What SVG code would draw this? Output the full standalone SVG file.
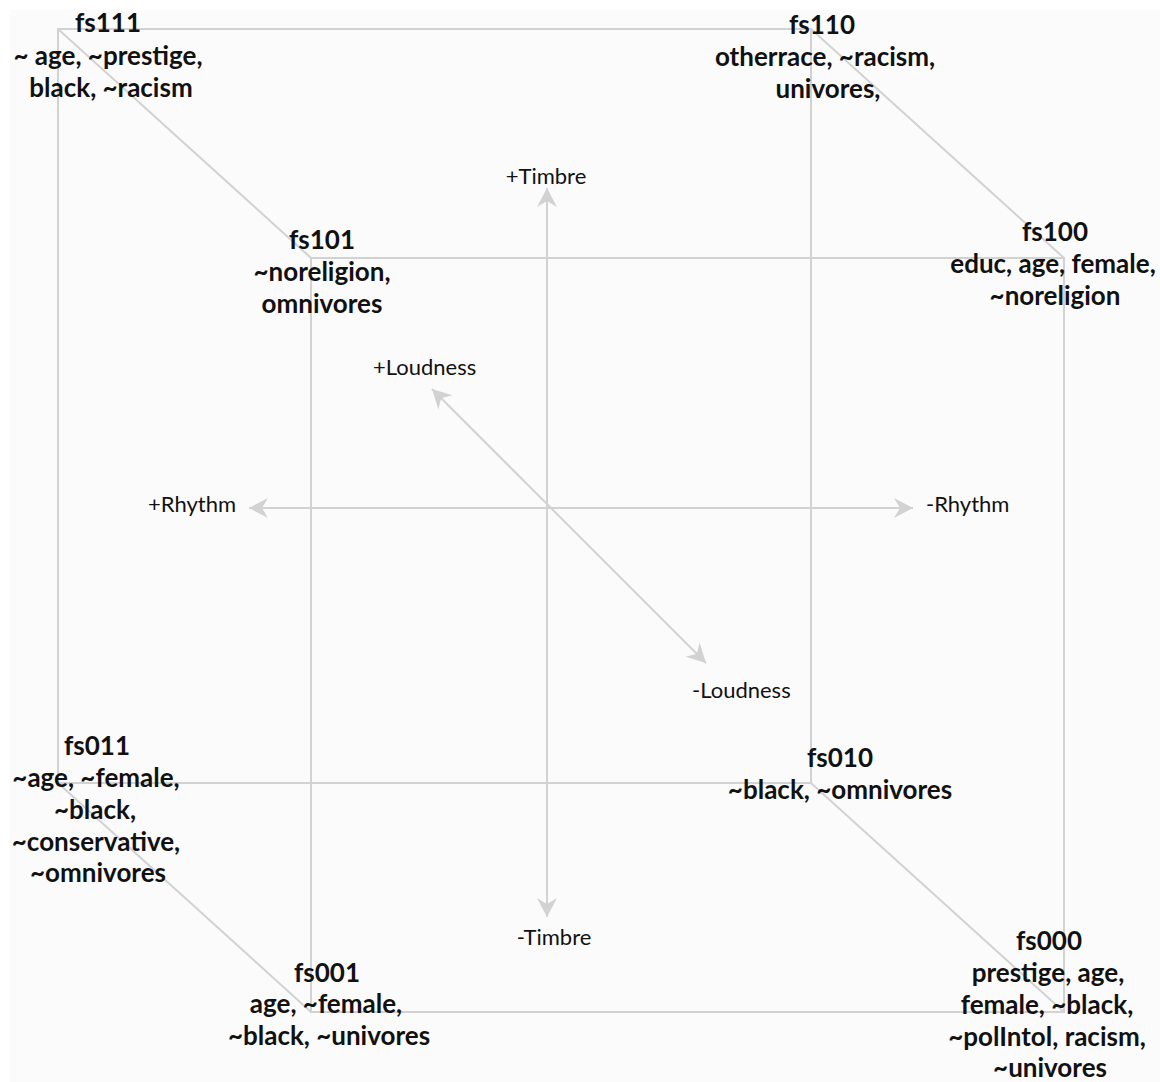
<svg xmlns="http://www.w3.org/2000/svg" width="1160" height="1082" viewBox="0 0 1160 1082">
<defs>
<style>
.edge{stroke:#d2d2d2;stroke-width:2;fill:none}
.axis{stroke:#d2d2d2;stroke-width:2;fill:none;marker-end:url(#ah);marker-start:url(#ahs)}
.lbl{font-family:Lato,"Noto Sans",sans-serif;font-weight:bold;font-size:26px;fill:#111;text-anchor:middle}
.ax{font-family:Lato,"Noto Sans",sans-serif;font-size:22px;fill:#111}
</style>
<marker id="ah" markerUnits="userSpaceOnUse" markerWidth="24" markerHeight="24" viewBox="-20 -12 22 24" refX="0" refY="0" orient="auto">
<path d="M0,0 L-19,-10 L-13,0 L-19,10 Z" fill="#d2d2d2"/>
</marker>
<marker id="ahs" markerUnits="userSpaceOnUse" markerWidth="24" markerHeight="24" viewBox="-20 -12 22 24" refX="0" refY="0" orient="auto-start-reverse">
<path d="M0,0 L-19,-10 L-13,0 L-19,10 Z" fill="#d2d2d2"/>
</marker>
</defs>
<rect x="0" y="0" width="1160" height="1082" fill="#ffffff"/>
<rect x="10" y="10" width="1150" height="1072" fill="#fbfbfb"/>
<g id="connectors">
<rect class="edge" x="58" y="29" width="753" height="754"/>
<rect class="edge" x="311" y="258" width="753" height="754"/>
<line class="edge" x1="58" y1="29" x2="311" y2="258"/>
<line class="edge" x1="811" y1="29" x2="1064" y2="258"/>
<line class="edge" x1="58" y1="783" x2="311" y2="1012"/>
<line class="edge" x1="811" y1="783" x2="1064" y2="1012"/>
<line class="axis" x1="547" y1="917" x2="547" y2="188"/>
<line class="axis" x1="249" y1="508" x2="913" y2="508"/>
<line class="axis" x1="706" y1="663" x2="432" y2="389"/>
</g>
<g id="axis-labels">
<text class="ax" x="546" y="184" text-anchor="middle">+Timbre</text>
<text class="ax" x="554" y="945" text-anchor="middle">-Timbre</text>
<text class="ax" x="148" y="512">+Rhythm</text>
<text class="ax" x="926" y="512">-Rhythm</text>
<text class="ax" x="373" y="375">+Loudness</text>
<text class="ax" x="692" y="698">-Loudness</text>
</g>
<g id="fs111">
<text class="lbl" x="108" y="32">fs111</text>
<text class="lbl" x="108" y="65">~ age, ~prestige,</text>
<text class="lbl" x="111" y="97">black, ~racism</text>
</g>
<g id="fs110">
<text class="lbl" x="822" y="34">fs110</text>
<text class="lbl" x="825" y="66">otherrace, ~racism,</text>
<text class="lbl" x="828" y="98">univores,</text>
</g>
<g id="fs101">
<text class="lbl" x="322" y="249">fs101</text>
<text class="lbl" x="322" y="281">~noreligion,</text>
<text class="lbl" x="322" y="313">omnivores</text>
</g>
<g id="fs100">
<text class="lbl" x="1055" y="241">fs100</text>
<text class="lbl" x="1053" y="273">educ, age, female,</text>
<text class="lbl" x="1055" y="305">~noreligion</text>
</g>
<g id="fs011">
<text class="lbl" x="97" y="755">fs011</text>
<text class="lbl" x="96" y="787">~age, ~female,</text>
<text class="lbl" x="95" y="819">~black,</text>
<text class="lbl" x="96" y="851">~conservative,</text>
<text class="lbl" x="98" y="882">~omnivores</text>
</g>
<g id="fs010">
<text class="lbl" x="840" y="767">fs010</text>
<text class="lbl" x="840" y="799">~black, ~omnivores</text>
</g>
<g id="fs001">
<text class="lbl" x="327" y="982">fs001</text>
<text class="lbl" x="326" y="1013">age, ~female,</text>
<text class="lbl" x="329" y="1045">~black, ~univores</text>
</g>
<g id="fs000">
<text class="lbl" x="1049" y="950">fs000</text>
<text class="lbl" x="1048" y="982">prestige, age,</text>
<text class="lbl" x="1047" y="1014">female, ~black,</text>
<text class="lbl" x="1047" y="1046">~polIntol, racism,</text>
<text class="lbl" x="1050" y="1077">~univores</text>
</g>
</svg>
